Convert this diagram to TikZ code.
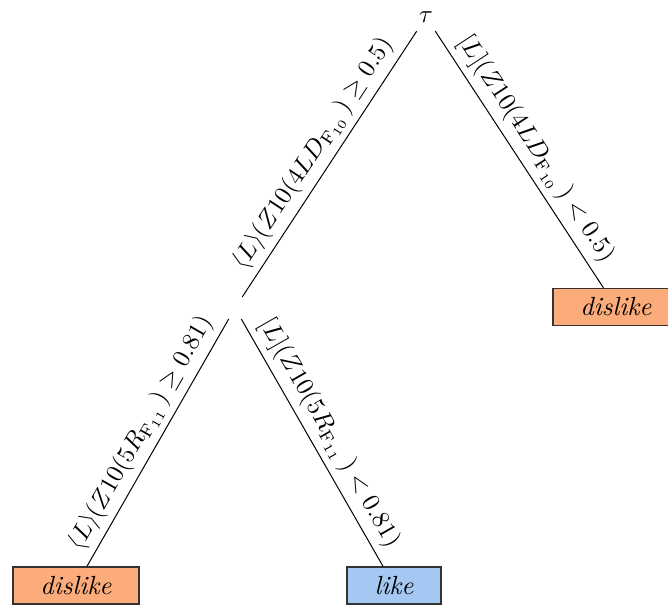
\documentclass[tikz,border=0pt]{standalone}
\usepackage{amsmath,amssymb}
\definecolor{dislikecol}{RGB}{252,172,122}
\definecolor{likecol}{RGB}{164,200,242}
\begin{document}
\begin{tikzpicture}[x=0.4pt,y=-0.4pt,
  leafbox/.style={draw=black!80, line width=0.5pt, minimum height=14.8pt, inner sep=0pt, font=\fontsize{10.5}{12}\selectfont\itshape},
  branch/.style={draw=black, line width=0.4pt},
  lab/.style={midway, sloped, above, inner sep=2.6pt}]
\useasboundingbox (0,0) rectangle (668,605);
\node (root) at (426,17) {$\tau$};
\node (mid) at (235,308) [inner sep=4.2pt] {};
\node (d1) at (616,307) [leafbox, fill=dislikecol, minimum width=50.4pt] {dislike};
\node (d2) at (76,585.5) [leafbox, fill=dislikecol, minimum width=50.4pt] {dislike};
\node (lk) at (394,585.5) [leafbox, fill=likecol, minimum width=37.6pt] {like};
\draw[branch] (root) -- node[lab] {$\langle L\rangle(Z10(4LD_{\mathrm{F}_{10}}\,)\geq 0.5)$} (mid);
\draw[branch] (root) -- node[lab] {$[L](Z10(4LD_{\mathrm{F}_{10}}\,)<0.5)$} (d1);
\draw[branch] (mid) -- node[lab] {$\langle L\rangle(Z10(5R_{\mathrm{F}_{11}}\,)\geq 0.81)$} (d2);
\draw[branch] (mid) -- node[lab] {$[L](Z10(5R_{\mathrm{F}_{11}}\,)<0.81)$} (lk);
\end{tikzpicture}
\end{document}
